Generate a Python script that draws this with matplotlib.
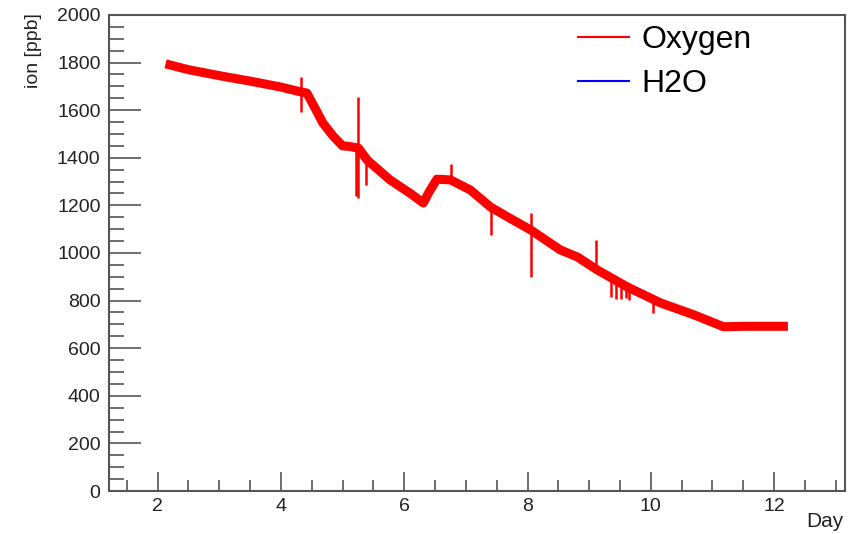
import numpy as np
import matplotlib
matplotlib.use("Agg")
import matplotlib.pyplot as plt
from matplotlib.ticker import MultipleLocator

# --- Oxygen trace (day, ppb) ---
jour = [2.2, 2.5, 3.0, 3.5, 4.0, 4.3, 4.42, 4.55, 4.68, 4.85, 5.0, 5.1, 5.26, 5.4, 5.77,
        6.1, 6.31, 6.4, 6.53, 6.75, 7.07, 7.4, 7.7, 8.05, 8.53, 8.81, 9.13,
        9.62, 10.16, 10.7, 11.18, 11.5, 12.15]
oxygene = [1790, 1770, 1745, 1722, 1697, 1678, 1672, 1610, 1546, 1490, 1450, 1448, 1440, 1390, 1307,
           1250, 1210, 1255, 1310, 1307, 1265, 1193, 1148, 1097, 1013, 983, 929,
           857, 790, 740, 690, 692, 692]

# pics verticaux : (jour, bas, haut)
pic_jour = [4.33, 5.22, 5.25, 5.38, 6.76, 7.41, 8.06, 9.11, 9.36, 9.44, 9.51, 9.59, 9.65, 10.04]
pic_bas = [1592, 1240, 1231, 1286, 1300, 1076, 899, 930, 815, 808, 805, 810, 803, 748]
pic_haut = [1740, 1460, 1655, 1420, 1374, 1200, 1168, 1055, 900, 890, 885, 880, 875, 800]

# H2O : rien de visible dans le cadre
jour_h2o = []
h2o = []

gris = "#555555"

fig = plt.figure(figsize=(8.51, 5.34), dpi=100)
ax = fig.add_axes([0.128, 0.0805, 0.865, 0.8915])

ax.plot(jour, oxygene, color="red", lw=6.5, label="Oxygen")
ax.vlines(pic_jour, pic_bas, pic_haut, color="red", lw=1.8)
ax.plot(jour_h2o, h2o, color="blue", lw=1.5, label="H2O")

ax.set_xlim(1.21, 13.15)
ax.set_ylim(0, 2000)
ax.xaxis.set_major_locator(MultipleLocator(2))
ax.xaxis.set_minor_locator(MultipleLocator(0.5))
ax.yaxis.set_major_locator(MultipleLocator(200))
ax.yaxis.set_minor_locator(MultipleLocator(50))

ax.tick_params(which="both", direction="in", top=False, right=False, color=gris, width=1.2,
               labelsize=14, labelcolor="#222222")
ax.tick_params(axis="x", which="major", length=14, pad=5)
ax.tick_params(axis="x", which="minor", length=8)
ax.tick_params(axis="y", which="major", length=23, pad=6)
ax.tick_params(axis="y", which="minor", length=11)
for s in ax.spines.values():
    s.set_color(gris)
    s.set_linewidth(1.5)

for lab in ax.get_xticklabels() + ax.get_yticklabels():
    lab.set_family("Liberation Sans")

fig.text(0.039, 0.975, "ion [ppb]", rotation=90, ha="center", va="top",
         fontsize=14, family="Liberation Sans", color="#222222")
fig.text(0.991, 0.005, "Day", ha="right", va="bottom",
         fontsize=15, family="Liberation Sans", color="#222222")

leg = ax.legend(loc="upper left", bbox_to_anchor=(0.637, 0.978), frameon=False,
                borderpad=0, borderaxespad=0,
                prop={"family": "Liberation Sans", "size": 23},
                handlelength=1.6, handletextpad=0.4, labelspacing=0.42)
for h in leg.get_lines():
    h.set_linewidth(1.5)

fig.savefig("out.png", dpi=100)
